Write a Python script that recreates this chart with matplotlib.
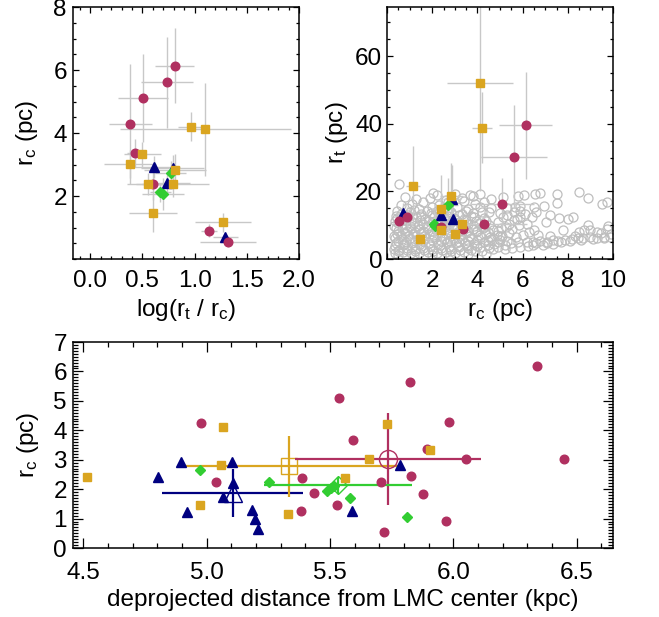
import numpy as np
import matplotlib
matplotlib.use("Agg")
import matplotlib.pyplot as plt
from matplotlib.ticker import MultipleLocator

plt.rcParams["font.family"] = ["Liberation Sans", "DejaVu Sans"]
plt.rcParams["mathtext.default"] = "regular"

FS = 17.5
RED = "#B03060"
GOLD = "#DAA520"
NAVY = "#000080"
LIME = "#32CD32"
ERR_GREY = "#C8C8C8"
REF_GREY = "#BEBEBE"

# core / tidal radii (pc) per group, with errors; lr_err is the error on log(rt/rc)
red_rc = [6.14, 5.61, 5.10, 4.28, 3.36, 2.37, 0.90, 0.54]
red_rc_err = [1.18, 1.45, 1.40, 1.90, 0.45, 0.50, 0.20, 0.15]
red_rt = [39.5, 30.3, 16.4, 10.4, 8.95, 9.4, 12.4, 11.3]
red_rt_err = [15.7, 15.2, 7.7, 3.0, 2.5, 2.5, 3.0, 3.0]
red_lr_err = [0.19, 0.25, 0.24, 0.21, 0.07, 0.10, 0.08, 0.27]

gold_rc = [4.12, 4.20, 3.32, 3.01, 2.84, 2.39, 2.38, 1.45, 1.16]
gold_rc_err = [1.47, 0.46, 0.40, 0.45, 0.50, 0.35, 0.40, 0.58, 0.30]
gold_rt = [52.1, 38.8, 10.5, 7.3, 18.5, 8.55, 14.7, 5.8, 21.7]
gold_rt_err = [32.0, 10.5, 3.0, 2.0, 10.0, 3.0, 10.0, 2.0, 11.6]
gold_lr_err = [0.82, 0.12, 0.18, 0.25, 0.30, 0.20, 0.35, 0.23, 0.27]

navy_rc = [2.91, 2.89, 2.40, 0.69]
navy_rc_err = [0.35, 0.40, 0.30, 0.15]
navy_rt = [11.9, 17.8, 13.0, 13.5]
navy_rt_err = [3.0, 10.0, 5.0, 3.0]
navy_lr_err = [0.25, 0.30, 0.22, 0.12]

lime_rc = [2.72, 2.06, 2.12]
lime_rc_err = [0.40, 0.50, 0.30]
lime_rt = [16.0, 10.3, 9.9]
lime_rt_err = [8.0, 4.0, 3.0]
lime_lr_err = [0.15, 0.20, 0.10]

# comparison sample (open grey circles)
ref_rc = [
    0.35, 0.70, 1.05, 1.40, 1.80, 2.20, 2.60, 3.00, 3.40, 3.90,
    0.30, 0.55, 0.90, 1.25, 1.60, 2.00, 2.40, 2.80, 3.20, 3.60, 4.10, 4.50,
    0.40, 0.75, 1.10, 1.45, 1.85, 2.25, 2.65, 3.05, 3.45, 3.85, 4.30, 4.75,
    0.35, 0.65, 1.00, 1.35, 1.70, 2.10, 2.50, 2.90, 3.30, 3.70, 4.15, 4.60, 5.00,
    0.45, 0.80, 1.15, 1.50, 1.90, 2.30, 2.70, 3.10, 3.50, 3.95, 4.40, 4.85,
    0.40, 0.70, 1.05, 1.40, 1.75, 2.15, 2.55, 2.95, 3.35, 3.80, 4.25, 4.70,
    0.50, 0.85, 1.20, 1.60, 2.00, 2.40, 2.80, 3.20, 3.60, 4.05, 4.50,
    0.45, 0.80, 1.30, 1.70, 2.10, 2.50, 2.95, 3.40, 3.85, 4.30,
    0.60, 1.00, 1.50, 1.95, 2.40, 2.85, 3.30, 3.80, 4.20,
    0.90, 1.40, 2.00, 2.50, 3.10, 3.60, 4.10, 4.60,
    0.52, 0.80, 2.20, 3.00, 3.80, 4.10, 4.60, 1.60, 3.40, 2.70,
    0.50, 0.90, 1.25, 1.65, 2.05, 2.45, 2.85, 3.25, 3.70, 4.20, 4.70,
    0.35, 0.70, 1.10, 1.50, 1.90, 2.35, 2.75, 3.15, 3.55, 4.00, 4.45, 4.90,
    0.50, 0.85, 1.25, 1.60, 2.00, 2.40, 2.80, 3.20, 3.60, 4.00, 4.45, 4.90, 5.30,
    0.30, 0.60, 0.95, 1.30, 1.65, 2.05, 2.45, 2.85, 3.25, 3.65, 4.10, 4.55, 5.00,
    0.50, 0.90, 1.25, 1.60, 2.00, 2.40, 2.80, 3.20, 3.60, 4.00, 4.45, 4.90,
    0.30, 0.65, 1.00, 1.35, 1.80, 2.20, 2.60, 3.00, 3.40, 3.85, 4.30,
    0.35, 0.70, 1.05, 1.45, 1.85, 2.25, 2.65, 3.05, 3.50, 3.95, 4.40,
    0.40, 0.95, 1.50, 2.00, 2.70, 3.20, 3.70,
    0.45, 1.20, 1.75, 2.20, 2.65, 3.50, 4.50,
    0.60, 1.10, 2.30, 3.90, 0.50, 1.20, 2.00, 2.80, 3.60, 4.40,
    1.30, 1.90, 2.60, 3.30, 4.30, 2.05, 3.65,
    5.12, 5.81, 6.06, 6.53, 6.78, 7.50, 7.50, 8.50, 9.50, 9.75,
    5.30, 5.67, 5.90, 6.50, 6.95, 6.40, 5.90, 5.60, 8.00, 8.25,
    7.05, 8.90, 6.50, 6.30, 7.80, 8.50, 8.70, 9.00, 9.30, 9.75,
    6.18, 6.48, 6.77, 7.07, 7.36, 7.58, 7.88, 8.17, 8.47, 8.69,
    8.99, 9.28, 9.58, 9.87, 6.48, 6.90, 7.36, 5.20, 5.50, 5.80,
    5.10, 5.40, 5.70, 5.25, 5.55, 5.85, 5.15, 6.20, 6.00,
    4.90, 5.00, 5.30, 5.60, 5.90, 5.05, 5.40, 5.75, 6.10, 6.60,
    7.20, 7.60, 5.20, 5.55, 5.90, 6.25, 6.60, 7.10, 7.70, 8.10,
    8.60, 9.10, 9.60, 9.90, 8.30, 7.20, 6.70, 9.45, 9.80, 8.90,
]
ref_rt = [
    1.8, 2.0, 1.7, 1.9, 2.1, 1.8, 2.0, 1.9, 2.2, 2.4,
    3.1, 2.8, 3.3, 2.9, 3.2, 3.0, 3.4, 3.1, 3.5, 3.3, 3.6, 3.4,
    4.6, 4.3, 4.8, 4.4, 4.7, 4.5, 4.9, 4.6, 4.8, 4.5, 4.9, 4.4,
    6.2, 5.9, 6.3, 5.8, 6.1, 6.4, 6.0, 6.3, 5.9, 6.2, 6.5, 6.0, 5.7,
    7.4, 7.8, 7.3, 7.7, 7.5, 7.9, 7.4, 7.7, 7.6, 7.9, 7.5, 7.2,
    9.1, 8.8, 9.3, 8.9, 9.2, 8.7, 9.4, 9.0, 9.3, 8.9, 9.2, 8.6,
    10.6, 10.2, 10.7, 10.4, 10.8, 10.3, 10.6, 10.9, 10.4, 10.7, 10.2,
    12.1, 11.8, 12.3, 11.9, 12.4, 12.0, 12.2, 11.8, 12.3, 12.0,
    13.4, 13.8, 13.3, 13.7, 13.5, 13.9, 13.4, 13.6, 14.0,
    15.2, 14.8, 15.4, 15.0, 15.3, 14.9, 15.5, 15.0,
    22.3, 18.3, 18.8, 19.2, 18.6, 19.3, 17.8, 16.8, 17.2, 16.9,
    2.5, 2.7, 2.4, 2.6, 2.5, 2.8, 2.4, 2.6, 2.7, 2.5, 2.9,
    3.8, 4.0, 3.7, 3.9, 3.8, 4.1, 3.7, 3.9, 4.0, 3.8, 4.1, 3.6,
    5.3, 5.1, 5.4, 5.2, 5.5, 5.2, 5.4, 5.1, 5.3, 5.5, 5.2, 5.0, 5.3,
    6.8, 7.0, 6.7, 6.9, 6.8, 7.1, 6.7, 6.9, 7.0, 6.8, 7.1, 6.6, 6.9,
    8.2, 8.4, 8.1, 8.3, 8.2, 8.5, 8.1, 8.3, 8.4, 8.2, 8.0, 8.3,
    9.8, 10.0, 9.7, 9.9, 9.8, 10.1, 9.7, 9.9, 10.0, 9.8, 9.6,
    11.3, 11.5, 11.2, 11.4, 11.3, 11.6, 11.2, 11.4, 11.5, 11.3, 11.1,
    12.8, 13.0, 12.7, 12.9, 12.8, 13.1, 12.7,
    14.2, 14.4, 14.1, 14.3, 14.5, 14.2, 14.0,
    16.0, 16.3, 16.1, 16.2, 1.2, 1.1, 1.3, 1.2, 1.4, 1.5,
    17.6, 17.9, 17.4, 18.1, 17.0, 19.5, 19.0,
    18.4, 18.6, 18.9, 19.2, 19.6, 19.1, 16.6, 19.9, 16.3, 16.8,
    15.0, 15.4, 15.6, 15.4, 15.6, 12.5, 12.5, 11.5, 11.7, 12.5,
    11.0, 10.0, 8.55, 8.1, 8.6, 8.1, 8.6, 8.6, 8.1, 8.8,
    5.1, 5.1, 5.3, 5.1, 5.6, 5.4, 5.6, 5.8, 6.1, 6.1,
    6.6, 6.1, 6.6, 6.6, 4.0, 4.2, 4.3, 4.2, 4.6, 4.9,
    6.8, 7.6, 6.4, 9.6, 9.0, 10.1, 12.4, 10.5, 7.0,
    11.0, 13.5, 12.9, 13.8, 14.2, 9.1, 10.4, 11.9, 13.4, 14.0,
    13.0, 12.2, 3.1, 3.3, 3.6, 3.8, 4.6, 4.8, 4.9, 5.2,
    5.6, 5.9, 6.2, 7.4, 6.9, 6.8, 7.1, 7.6, 9.9, 18.0,
]

# core radius vs. deprojected galactocentric distance (kpc)
red_dist = [4.977, 5.039, 5.535, 5.593, 5.385, 5.436, 5.384, 5.527, 6.340, 5.826,
            5.982, 5.894, 6.053, 6.450, 5.828, 5.708, 5.878, 5.970, 5.718]
red_dist_rc = [4.25, 2.24, 5.10, 3.68, 2.37, 1.86, 1.25, 1.45, 6.17, 5.64,
               4.28, 3.38, 3.02, 3.03, 2.46, 2.25, 1.85, 0.92, 0.55]
gold_dist = [4.516, 5.067, 5.059, 4.974, 5.331, 5.562, 5.657, 5.730, 5.905]
gold_dist_rc = [2.40, 4.11, 2.82, 1.46, 1.15, 2.39, 3.01, 4.20, 3.32]
navy_dist = [4.801, 4.895, 4.921, 5.065, 5.104, 5.107, 5.185, 5.197, 5.207, 5.589, 5.785]
navy_dist_rc = [2.40, 2.92, 1.23, 1.73, 2.93, 2.20, 1.29, 0.97, 0.65, 1.26, 2.83]
lime_dist = [4.972, 5.253, 5.487, 5.503, 5.518, 5.581, 5.811]
lime_dist_rc = [2.65, 2.25, 1.95, 2.03, 2.11, 1.71, 1.04]

# group means and standard deviations: (dist, dist_sd, rc, rc_sd)
red_mean = (5.734, 0.378, 3.02, 1.56)
gold_mean = (5.333, 0.445, 2.77, 1.03)
navy_mean = (5.105, 0.287, 1.88, 0.82)
lime_mean = (5.534, 0.300, 2.13, 0.29)

groups = [
    # draw order: navy, lime, red, gold
    (navy_rc, navy_rc_err, navy_rt, navy_rt_err, navy_lr_err, NAVY, "^", 6.5),
    (lime_rc, lime_rc_err, lime_rt, lime_rt_err, lime_lr_err, LIME, "D", 5.0),
    (red_rc, red_rc_err, red_rt, red_rt_err, red_lr_err, RED, "o", 6.2),
    (gold_rc, gold_rc_err, gold_rt, gold_rt_err, gold_lr_err, GOLD, "s", 5.8),
]


def style_axes(ax, major, minor, lw=1.1):
    for sp in ax.spines.values():
        sp.set_linewidth(lw)
    ax.tick_params(which="both", direction="in", top=True, right=True,
                   labelsize=FS, width=0.9)
    ax.tick_params(which="major", length=major)
    ax.tick_params(which="minor", length=minor)
    ax.tick_params(axis="x", pad=8)
    ax.tick_params(axis="y", pad=4.5)


fig = plt.figure(figsize=(6.59, 6.17), dpi=100)
ax_tl = fig.add_axes([0.1108, 0.5802, 0.3429, 0.4084])
ax_tr = fig.add_axes([0.5873, 0.5802, 0.3429, 0.4084])
ax_b = fig.add_axes([0.1108, 0.1118, 0.8194, 0.3339])

# --- rc vs log(rt/rc)
for rc, rc_err, rt, rt_err, lr_err, col, mk, ms in groups:
    lr = np.log10(np.array(rt) / np.array(rc))
    ax_tl.errorbar(lr, rc, xerr=lr_err, yerr=rc_err, fmt="none",
                   ecolor=ERR_GREY, elinewidth=1.0, zorder=1)
for rc, rc_err, rt, rt_err, lr_err, col, mk, ms in groups:
    lr = np.log10(np.array(rt) / np.array(rc))
    ax_tl.plot(lr, rc, mk, color=col, ms=ms, mec=col, zorder=3)
ax_tl.set_xlim(-0.165, 2.0)
ax_tl.set_ylim(0, 8)
ax_tl.xaxis.set_major_locator(MultipleLocator(0.5))
ax_tl.xaxis.set_minor_locator(MultipleLocator(0.1))
ax_tl.yaxis.set_minor_locator(MultipleLocator(0.5))
ax_tl.set_yticks([2, 4, 6, 8])
ax_tl.xaxis.set_major_formatter(plt.FuncFormatter(lambda v, p: f"{v:.1f}"))
style_axes(ax_tl, 4.5, 2.2)
ax_tl.set_xlabel("log(r$_t$ / r$_c$)", fontsize=FS)
ax_tl.set_ylabel("r$_c$ (pc)", fontsize=FS)
ax_tl.yaxis.set_label_coords(-0.145, 0.5)
ax_tl.xaxis.set_label_coords(0.5, -0.15)

# --- rt vs rc
ax_tr.plot(ref_rc, ref_rt, "o", mfc="none", mec=REF_GREY, ms=6.5, mew=0.9, zorder=1)
for rc, rc_err, rt, rt_err, lr_err, col, mk, ms in groups:
    ax_tr.errorbar(rc, rt, xerr=rc_err, yerr=rt_err, fmt="none",
                   ecolor=ERR_GREY, elinewidth=1.0, zorder=2)
for rc, rc_err, rt, rt_err, lr_err, col, mk, ms in groups:
    ax_tr.plot(rc, rt, mk, color=col, ms=ms, mec=col, zorder=3)
ax_tr.set_xlim(0, 10)
ax_tr.set_ylim(0, 74.5)
ax_tr.xaxis.set_major_locator(MultipleLocator(2))
ax_tr.xaxis.set_minor_locator(MultipleLocator(0.5))
ax_tr.yaxis.set_major_locator(MultipleLocator(20))
ax_tr.yaxis.set_minor_locator(MultipleLocator(5))
style_axes(ax_tr, 4.5, 2.2)
ax_tr.tick_params(axis="y", pad=3.5)
ax_tr.set_xlabel("r$_c$ (pc)", fontsize=FS)
ax_tr.set_ylabel("r$_t$ (pc)", fontsize=FS)
ax_tr.yaxis.set_label_coords(-0.165, 0.5)
ax_tr.xaxis.set_label_coords(0.5, -0.15)

# --- rc vs distance, with group means
means = [
    (navy_mean, NAVY, "^", 13),
    (gold_mean, GOLD, "s", 12),
    (red_mean, RED, "o", 13),
    (lime_mean, LIME, "D", 9),
]
for (d, d_sd, r, r_sd), col, mk, ms in means:
    ax_b.errorbar(d, r, xerr=d_sd, yerr=r_sd, fmt="none", ecolor=col,
                  elinewidth=1.6, zorder=2)
    ax_b.plot(d, r, mk, mfc="none", mec=col, ms=ms, mew=1.0, zorder=2)

points = [
    (red_dist, red_dist_rc, RED, "o", 6.2),
    (gold_dist, gold_dist_rc, GOLD, "s", 5.8),
    (navy_dist, navy_dist_rc, NAVY, "^", 6.5),
    (lime_dist, lime_dist_rc, LIME, "D", 5.0),
]
for d, r, col, mk, ms in points:
    ax_b.plot(d, r, mk, color=col, mec=col, ms=ms, zorder=3)
ax_b.set_xlim(4.458, 6.647)
ax_b.set_ylim(0, 7)
ax_b.xaxis.set_major_locator(MultipleLocator(0.5))
ax_b.xaxis.set_minor_locator(MultipleLocator(0.1))
ax_b.yaxis.set_major_locator(MultipleLocator(1))
ax_b.yaxis.set_minor_locator(MultipleLocator(0.1))
ax_b.xaxis.set_major_formatter(plt.FuncFormatter(lambda v, p: f"{v:.1f}"))
style_axes(ax_b, 7, 3.6)
ax_b.tick_params(axis="x", pad=10)
ax_b.set_xlabel("deprojected distance from LMC center (kpc)", fontsize=FS)
ax_b.set_ylabel("r$_c$ (pc)", fontsize=FS)
ax_b.yaxis.set_label_coords(-0.06, 0.5)
ax_b.xaxis.set_label_coords(0.5, -0.2)

fig.savefig("out.png", dpi=100)
